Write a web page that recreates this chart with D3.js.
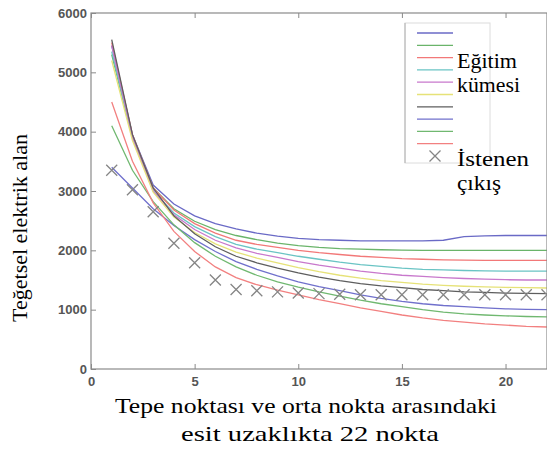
<!DOCTYPE html>
<html><head><meta charset="utf-8">
<script src="https://cdn.jsdelivr.net/npm/d3@7"></script>
<style>body{margin:0;background:#fff}svg{display:block}</style>
</head><body>
<svg id="c" width="547" height="459"></svg>
<script>
const xs = d3.range(1, 23);
const xTicks = [0, 5, 10, 15, 20];
const yTicks = [0, 1000, 2000, 3000, 4000, 5000, 6000];
const seriesColors = ["#6a6ac6", "#6ab46a", "#f27878", "#6ac4c4", "#c878cc", "#e6e278", "#5e5e5e", "#7070cc", "#70b870", "#f28080"];
const s1 = [5450,3950,3100,2780,2580,2450,2360,2290,2240,2200,2180,2170,2160,2160,2160,2160,2170,2230,2245,2250,2250,2250];
const s2 = [5300,3900,3050,2700,2490,2350,2250,2180,2120,2080,2050,2030,2020,2010,2005,2000,2000,2000,2000,2000,2000,2000];
const s3 = [5500,3950,3050,2680,2450,2290,2170,2100,2050,2000,1960,1930,1900,1880,1860,1850,1840,1835,1830,1830,1830,1830];
const s4 = [5350,3900,3000,2630,2400,2230,2100,2020,1960,1900,1850,1800,1760,1730,1700,1680,1670,1660,1655,1650,1650,1650];
const s5 = [5450,3900,3000,2600,2350,2170,2040,1950,1880,1810,1750,1700,1650,1610,1580,1560,1540,1525,1515,1505,1500,1500];
const s6 = [5200,3850,2980,2560,2300,2110,1970,1870,1790,1710,1640,1580,1530,1490,1460,1430,1410,1395,1385,1375,1370,1365];
const s7 = [5550,3950,3050,2580,2280,2060,1900,1790,1700,1620,1550,1490,1440,1400,1370,1340,1320,1300,1290,1280,1275,1270];
const s8 = [3400,3050,2700,2420,2180,1980,1810,1680,1570,1470,1390,1320,1250,1190,1140,1100,1070,1050,1030,1015,1005,1000];
const s9 = [4100,3350,2820,2430,2130,1900,1720,1580,1470,1380,1300,1230,1160,1100,1050,1000,960,930,910,895,885,877];
const s10 = [4500,3500,2800,2320,1980,1720,1540,1420,1330,1250,1170,1100,1030,970,910,860,820,790,760,740,720,708];
const desired = [3350,3020,2650,2120,1790,1500,1340,1320,1300,1280,1270,1260,1250,1250,1250,1250,1250,1250,1250,1250,1250,1250];
const trainSeries = [s1,s2,s3,s4,s5,s6,s7,s8,s9,s10];
const legendTrain = ["Eğitim", "kümesi"];
const legendDesired = ["İstenen", "çıkış"];
const xTitle = ["Tepe noktası ve orta nokta arasındaki", "esit uzaklıkta 22 nokta"];
const yTitle = "Teğetsel elektrik alan";

const svg = d3.select("#c");
const L = 91, R = 547, T = 13, B = 369;
const x = d3.scaleLinear().domain([0, 22]).range([L, R]);
const y = d3.scaleLinear().domain([0, 6000]).range([B, T]);

const line = d3.line().x((d, i) => x(xs[i])).y(d => y(d));
const g = svg.append("g");
trainSeries.forEach((s, k) => {
  g.append("path").attr("d", line(s)).attr("fill", "none")
    .attr("stroke", seriesColors[k]).attr("stroke-width", 1.3);
});
const xm = 5.5;
const cross = (cx, cy) => `M${cx-xm},${cy-xm}L${cx+xm},${cy+xm}M${cx-xm},${cy+xm}L${cx+xm},${cy-xm}`;
desired.forEach((v, i) => {
  g.append("path").attr("d", cross(x(xs[i]), y(v)))
    .attr("stroke", "#858585").attr("stroke-width", 1.3).attr("fill", "none");
});

const axCol = "#8a8a8a";
svg.append("rect").attr("x", L).attr("y", T).attr("width", R - L).attr("height", B - T)
  .attr("fill", "none").attr("stroke", axCol).attr("stroke-width", 1.2);
const xAx = svg.append("g").attr("transform", `translate(0,${B})`)
  .call(d3.axisBottom(x).tickValues(xTicks).tickSize(-5).tickPadding(8).tickFormat(d3.format("d")));
const yAx = svg.append("g").attr("transform", `translate(${L},0)`)
  .call(d3.axisLeft(y).tickValues(yTicks).tickSize(-5).tickPadding(4).tickFormat(d3.format("d")));
const xTop = svg.append("g").attr("transform", `translate(0,${T})`)
  .call(d3.axisTop(x).tickValues(xTicks).tickSize(-5).tickFormat(""));
[xAx, yAx, xTop].forEach(a => {
  a.select(".domain").remove();
  a.selectAll("line").attr("stroke", axCol);
  a.selectAll("text").attr("fill", "#555").attr("font-family", "Liberation Sans, Arial, sans-serif")
    .attr("font-size", 13).attr("font-weight", "bold");
});

const lg = svg.append("g");
lg.append("rect").attr("x", 405).attr("y", 23).attr("width", 85).attr("height", 140)
  .attr("fill", "#fff").attr("stroke", "#dcdcdc").attr("stroke-width", 1);
lg.append("line").attr("x1", 405).attr("x2", 405).attr("y1", 23).attr("y2", 163).attr("stroke", "#b0b0b0");
const ly0 = 33, lstep = 12.3;
seriesColors.forEach((c, k) => {
  lg.append("line").attr("x1", 417).attr("x2", 453).attr("y1", ly0 + k * lstep).attr("y2", ly0 + k * lstep)
    .attr("stroke", c).attr("stroke-width", 1.3);
});
lg.append("path").attr("d", cross(435, ly0 + 10 * lstep)).attr("stroke", "#858585").attr("stroke-width", 1.3);
const serif = "Liberation Serif, Times New Roman, serif";
const legW = {"Eğitim": 60, "kümesi": 63, "İstenen": 72, "çıkış": 44};
const addLeg = (t, yy) => lg.append("text").attr("x", 457).attr("y", yy).text(t)
  .attr("font-family", serif).attr("font-size", 20).attr("fill", "#000")
  .attr("textLength", legW[t]).attr("lengthAdjust", "spacingAndGlyphs");
legendTrain.forEach((t, i) => addLeg(t, 68 + i * 24));
legendDesired.forEach((t, i) => addLeg(t, 166 + i * 24));

const xTW = [382, 258], xTX = [115, 181];
xTitle.forEach((t, i) => svg.append("text").attr("x", xTX[i]).attr("y", 413 + i * 28)
  .text(t).attr("font-family", serif).attr("font-size", 21).attr("fill", "#000")
  .attr("textLength", xTW[i]).attr("lengthAdjust", "spacingAndGlyphs"));
svg.append("text").attr("transform", `translate(27,228) rotate(-90)`).attr("text-anchor", "middle")
  .text(yTitle).attr("font-family", serif).attr("font-size", 22).attr("fill", "#000");
</script>
</body></html>
